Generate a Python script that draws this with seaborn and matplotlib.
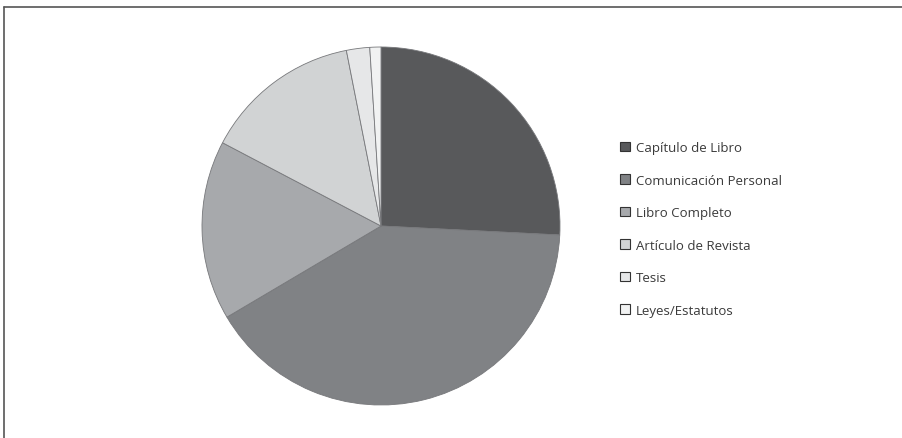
import seaborn as sns
from matplotlib import pyplot as plt
from matplotlib.lines import Line2D

categorias = ['Capítulo de Libro', 'Comunicación Personal', 'Libro Completo',
              'Artículo de Revista', 'Tesis', 'Leyes/Estatutos']
porcentajes = [25.8, 40.7, 16.2, 14.2, 2.1, 1.0]
colores = ['#58595b', '#808285', '#a7a9ac', '#d1d3d4', '#e6e7e8', '#f1f2f2']

sns.set_theme(style='white')
plt.rcParams['font.family'] = ['Open Sans', 'DejaVu Sans']

fig = plt.figure(figsize=(9.02, 4.39), dpi=100)

# marco: solo lineas arriba y a la izquierda
fig.add_artist(Line2D([4 / 902, 4 / 902], [0, 1 - 7.5 / 439], color='#555555', lw=1.2))
fig.add_artist(Line2D([4 / 902, 1], [1 - 7.5 / 439, 1 - 7.5 / 439], color='#555555', lw=1.2))

ax = fig.add_axes([202 / 902, 33 / 439, 358 / 902, 358 / 439])
wedges, _ = ax.pie(porcentajes, colors=colores, startangle=90, counterclock=False,
                   radius=1, wedgeprops=dict(edgecolor='#77787b', linewidth=0.6))
ax.set_xlim(-1.0, 1.0)
ax.set_ylim(-1.0, 1.0)
ax.set_aspect('equal')
ax.axis('off')

leg = fig.legend(wedges, categorias, loc='upper left',
                 bbox_to_anchor=(620 / 902, 1 - 142 / 439),
                 frameon=False, fontsize=9.5, handlelength=0.72, handleheight=0.72,
                 handletextpad=0.5, labelspacing=1.48, borderpad=0, borderaxespad=0)
for h in leg.legend_handles:
    h.set_edgecolor('#333333')
    h.set_linewidth(0.8)
for t in leg.get_texts():
    t.set_color('#3a3a3a')

fig.savefig('out.png', dpi=100)
